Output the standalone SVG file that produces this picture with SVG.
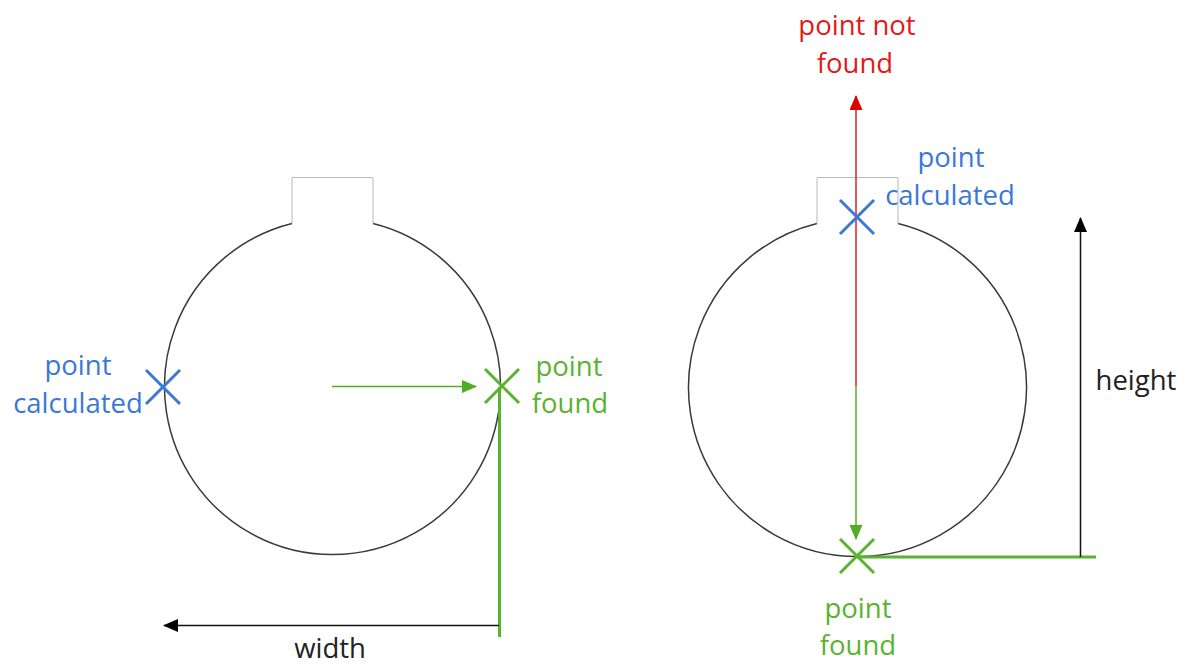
<svg xmlns="http://www.w3.org/2000/svg" width="1187" height="666" viewBox="0 0 1187 666">
<style>
  text { font-family: "Open Sans", "Liberation Sans", sans-serif; font-size: 27.5px; text-anchor: middle; }
  .blue { fill: #3b78d6; }
  .green { fill: #5ab330; }
  .red { fill: #df1b1b; }
  .black { fill: #222; }
  .circ { fill: none; stroke: #3a3a3a; stroke-width: 1.5; }
  .notch { fill: none; stroke: #b8b8b8; stroke-width: 1; }
  .xb { stroke: #3b78d6; stroke-width: 3; fill: none; }
  .xg { stroke: #5ab330; stroke-width: 3; fill: none; }
</style>
<defs>
  <marker id="ahG" markerWidth="15" markerHeight="13" refX="14" refY="6.5" orient="auto" markerUnits="userSpaceOnUse"><path d="M0,0 L15,6.5 L0,13 Z" fill="#4fae22"/></marker>
  <marker id="ahK" markerWidth="15" markerHeight="13" refX="14" refY="6.5" orient="auto" markerUnits="userSpaceOnUse"><path d="M0,0 L15,6.5 L0,13 Z" fill="#000"/></marker>
  <marker id="ahR" markerWidth="15" markerHeight="13" refX="14" refY="6.5" orient="auto" markerUnits="userSpaceOnUse"><path d="M0,0 L15,6.5 L0,13 Z" fill="#e00000"/></marker>
</defs>

<g id="left-shape">
  <path class="circ" d="M292,223.5 A168,168 0 1 0 373,223.5"/>
  <path class="notch" d="M292,223.5 V177.5 H373 V223.5"/>
</g>
<g id="right-shape">
  <path class="circ" d="M817,223.5 A169,169 0 1 0 898,223.5"/>
  <path class="notch" d="M817,223.5 V177.5 H898 V223.5"/>
</g>

<g id="connectors">
  <line x1="332" y1="386.5" x2="476" y2="386.5" stroke="#4fae22" stroke-width="1.5" marker-end="url(#ahG)"/>
  <line x1="499.5" y1="387" x2="499.5" y2="637" stroke="#5ab330" stroke-width="3"/>
  <line x1="499" y1="625.5" x2="164" y2="625.5" stroke="#111" stroke-width="1.5" marker-end="url(#ahK)"/>
  <line x1="856" y1="386" x2="856" y2="96" stroke="#e02020" stroke-width="1.5" marker-end="url(#ahR)"/>
  <line x1="856" y1="386" x2="856" y2="539" stroke="#4fae22" stroke-width="1.5" marker-end="url(#ahG)"/>
  <line x1="857" y1="557" x2="1096" y2="557" stroke="#5ab330" stroke-width="3"/>
  <line x1="1080.5" y1="557" x2="1080.5" y2="218" stroke="#111" stroke-width="1.5" marker-end="url(#ahK)"/>
</g>

<g id="cross-left-blue"><path class="xb" d="M146,370 L180,404 M180,370 L146,404"/></g>
<g id="cross-left-green"><path class="xg" d="M485,369 L519,403 M519,369 L485,403"/></g>
<g id="cross-right-blue"><path class="xb" d="M840,200 L874,234 M874,200 L840,234"/></g>
<g id="cross-right-green"><path class="xg" d="M840,539 L874,573 M874,539 L840,573"/></g>

<g id="label-left-calculated">
  <text class="blue" x="78" y="375">point</text>
  <text class="blue" x="78" y="413">calculated</text>
</g>
<g id="label-left-found">
  <text class="green" x="569" y="376">point</text>
  <text class="green" x="570" y="413">found</text>
</g>
<g id="label-width"><text class="black" x="330" y="658">width</text></g>
<g id="label-not-found">
  <text class="red" x="857" y="35">point not</text>
  <text class="red" x="855" y="73">found</text>
</g>
<g id="label-right-calculated">
  <text class="blue" x="951" y="167">point</text>
  <text class="blue" x="950" y="205">calculated</text>
</g>
<g id="label-height"><text class="black" x="1136" y="390">height</text></g>
<g id="label-right-found">
  <text class="green" x="858" y="618">point</text>
  <text class="green" x="858" y="655">found</text>
</g>
</svg>
